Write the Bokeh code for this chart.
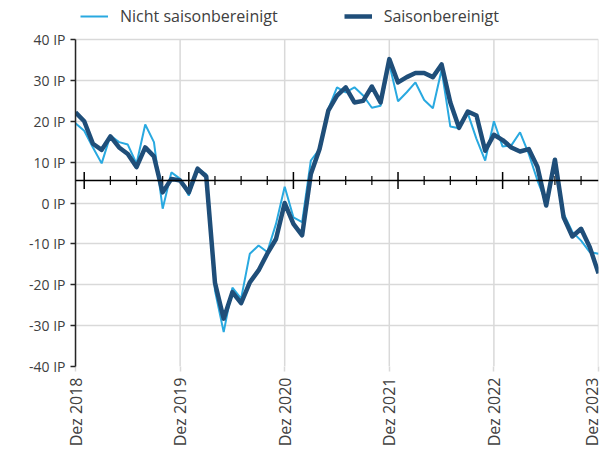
import math
from bokeh.plotting import figure
from bokeh.models import (ColumnDataSource, FixedTicker, Legend, LegendItem, Span, Range1d)
from bokeh.embed import file_html
from bokeh.resources import INLINE

# ---- data -------------------------------------------------------------
x_labels = ["Dez 2018", "Dez 2019", "Dez 2020", "Dez 2021", "Dez 2022", "Dez 2023"]
y_ticks = [-40, -30, -20, -10, 0, 10, 20, 30, 40]
y_tick_labels = ["-40 IP", "-30 IP", "-20 IP", "-10 IP", "0 IP", "10 IP", "20 IP", "30 IP", "40 IP"]

nicht_saisonbereinigt = [
    19.5, 17.7, 13.6, 9.7, 16.5, 14.9, 14.3, 9.6, 19.2, 14.9, -1.4, 7.5,
    5.9, 1.8, 8.4, 7.0, -21.4, -31.6, -20.7, -23.4, -12.4, -10.4, -12.0, -5.1,
    4.0, -3.5, -4.7, 10.4, 13.2, 23.0, 28.3, 27.1, 28.3, 26.3, 23.3, 23.8,
    34.0, 24.9, 27.1, 29.5, 25.2, 23.2, 32.6, 18.7, 18.3, 22.0, 15.7, 10.4,
    20.0, 13.8, 14.1, 17.3, 12.0, 5.5, 0.0, 9.6, -2.6, -7.1, -9.2, -12.0,
    -12.4,
]
saisonbereinigt = [
    22.2, 20.0, 14.5, 13.0, 16.3, 13.6, 12.0, 8.8, 13.6, 11.4, 2.6, 5.9,
    5.5, 2.6, 8.4, 6.5, -19.5, -28.3, -21.8, -24.5, -19.4, -16.5, -12.4, -8.8,
    0.0, -5.1, -7.9, 7.1, 13.2, 22.6, 26.3, 28.3, 24.6, 25.0, 28.5, 24.6,
    35.2, 29.5, 30.8, 31.8, 31.8, 30.8, 33.9, 24.6, 18.4, 22.4, 21.4, 12.8,
    16.7, 15.4, 13.6, 12.6, 13.2, 8.8, -0.6, 10.6, -3.5, -8.2, -6.3, -10.8,
    -17.2,
]
months = list(range(len(saisonbereinigt)))
x_axis_cross = 5.5  # value at which the category axis crosses

# ---- styles -----------------------------------------------------------
LIGHT = "#29A9E0"
DARK = "#1F4E79"
GRID = "#d9d9d9"
TEXT = "#404040"
FONT = "Open Sans"

y_lo, y_hi = y_ticks[0], y_ticks[-1]
headroom = 9.55  # space above the value area for the legend (in value units)

p = figure(width=602, height=455, output_backend="svg", toolbar_location=None,
           x_range=Range1d(0, len(months) - 1), y_range=Range1d(y_lo, y_hi + headroom),
           min_border_left=75, min_border_right=4, min_border_top=0, min_border_bottom=89)
p.outline_line_color = None
p.background_fill_color = "white"

year_m = [m for m in months if m % 12 == 0]

# grids: horizontal via grid, vertical as bounded segments (stop at top value)
p.xgrid.visible = False
p.ygrid.ticker = FixedTicker(ticks=y_ticks)
p.ygrid.grid_line_color = GRID
p.ygrid.grid_line_width = 1.5
p.segment(x0=year_m, y0=[y_lo] * len(year_m), x1=year_m, y1=[y_hi] * len(year_m),
          line_color=GRID, line_width=1.5, level="underlay")

# x axis (bottom)
xa = p.xaxis[0]
xa.ticker = FixedTicker(ticks=year_m)
xa.major_label_overrides = {m: lab for m, lab in zip(year_m, x_labels)}
xa.major_label_orientation = math.pi / 2
xa.axis_line_color = None
xa.major_tick_line_color = GRID
xa.major_tick_line_width = 1.5
xa.major_tick_out = 5
xa.major_tick_in = 0
xa.minor_tick_line_color = None
xa.major_label_text_font = FONT
xa.major_label_text_font_size = "16px"
xa.major_label_text_color = TEXT
xa.major_label_standoff = 6

# y axis (left)
ya = p.yaxis[0]
ya.bounds = (y_lo, y_hi)
ya.ticker = FixedTicker(ticks=y_ticks)
ya.major_label_overrides = {t: lab for t, lab in zip(y_ticks, y_tick_labels)}
ya.axis_line_color = "#262626"
ya.axis_line_width = 1.5
ya.major_tick_line_color = "#262626"
ya.major_tick_line_width = 1.5
ya.major_tick_out = 5
ya.major_tick_in = 0
ya.minor_tick_line_color = None
ya.major_label_text_font = FONT
ya.major_label_text_font_size = "14px"
ya.major_label_text_color = TEXT
ya.major_label_standoff = 5

# horizontal category axis line crossing at x_axis_cross, with month ticks
p.add_layout(Span(location=x_axis_cross, dimension="width", line_color="black", line_width=1.5))
minor_m = [m for m in months if m % 3 == 1 and m % 12 != 1]
major_m = [m for m in months if m % 12 == 1]
p.scatter(x=minor_m, y=[x_axis_cross] * len(minor_m), marker="dash", angle=math.pi / 2,
          size=9, line_color="black", line_width=1.2)
p.scatter(x=major_m, y=[x_axis_cross] * len(major_m), marker="dash", angle=math.pi / 2,
          size=17, line_color="black", line_width=1.5)

src = ColumnDataSource(dict(m=months, nsb=nicht_saisonbereinigt, sb=saisonbereinigt))
r1 = p.line("m", "nsb", source=src, line_color=LIGHT, line_width=2)
r2 = p.line("m", "sb", source=src, line_color=DARK, line_width=4.5, line_join="round")

legend = Legend(items=[LegendItem(label="Nicht saisonbereinigt", renderers=[r1]),
                       LegendItem(label="Saisonbereinigt", renderers=[r2])],
                orientation="horizontal", location="top_left",
                glyph_width=28, label_standoff=12, spacing=66, padding=0, margin=5,
                border_line_color=None, background_fill_alpha=0,
                label_text_font=FONT, label_text_font_size="16px", label_text_color=TEXT)
legend.margin = 5
p.add_layout(legend, "center")

open("out.html", "w").write(file_html(p, INLINE))
